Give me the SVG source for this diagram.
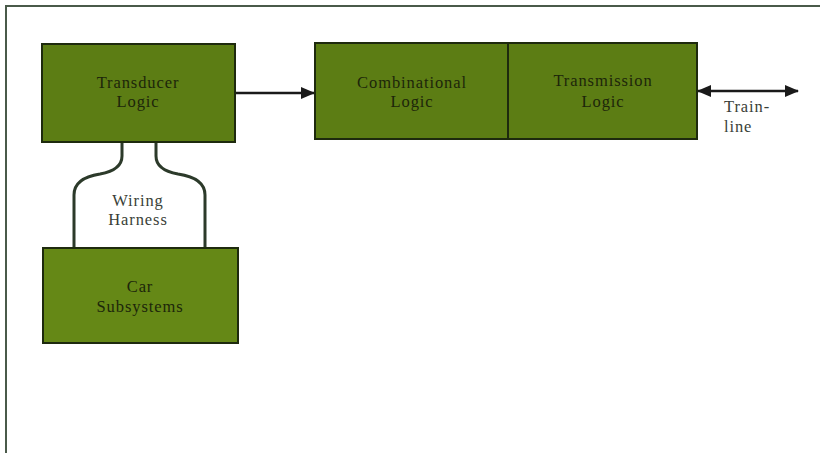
<svg xmlns="http://www.w3.org/2000/svg" width="820" height="453" viewBox="0 0 820 453">
  <defs>
    <style>
      .frame { stroke: #4a5a4a; stroke-width: 2; fill: none; }
      .box { fill: #5c7d14; stroke: #1e2a0e; stroke-width: 2; }
      .inlabel { font-family: "Liberation Serif", serif; font-size: 16.5px; letter-spacing: 0.9px; fill: #1c260a; text-anchor: middle; }
      .label { font-family: "Liberation Serif", serif; font-size: 16.5px; letter-spacing: 0.9px; fill: #3a3f38; }
      .wire { stroke: #2c3a2a; stroke-width: 3; fill: none; }
      .link { stroke: #1a1a1a; stroke-width: 2.5; fill: none; }
    </style>
    <marker id="arrow" viewBox="0 0 14 12" refX="13" refY="6" markerWidth="14" markerHeight="12" markerUnits="userSpaceOnUse" orient="auto-start-reverse">
      <path d="M0,0 L14,6 L0,12 z" fill="#1a1a1a"/>
    </marker>
  </defs>

  <rect width="820" height="453" fill="#ffffff"/>

  <!-- outer frame: top and left rules -->
  <path class="frame" d="M6,453 L6,6 L820,6"/>

  <!-- connectors -->
  <g id="connectors">
    <line class="link" x1="235" y1="93" x2="314" y2="93" marker-end="url(#arrow)"/>
    <line class="link" x1="698" y1="91" x2="798" y2="91" marker-start="url(#arrow)" marker-end="url(#arrow)"/>
    <!-- wiring harness -->
    <path class="wire" d="M122,142 L122,156 Q122,170 100,174 Q74,178 74,195 L74,248"/>
    <path class="wire" d="M156,142 L156,156 Q156,170 178,174 Q205,178 205,195 L205,248"/>
  </g>

  <g id="transducer-logic">
    <rect class="box" x="42" y="44" width="193" height="98"/>
    <text class="inlabel" x="138" y="88">Transducer</text>
    <text class="inlabel" x="138" y="107">Logic</text>
  </g>

  <g id="car-subsystems">
    <rect class="box" x="43" y="248" width="195" height="95" style="fill:#658816"/>
    <text class="inlabel" x="140" y="292">Car</text>
    <text class="inlabel" x="140" y="312">Subsystems</text>
  </g>

  <g id="combinational-logic">
    <rect class="box" x="315" y="43" width="193" height="96"/>
    <text class="inlabel" x="412" y="88">Combinational</text>
    <text class="inlabel" x="412" y="107">Logic</text>
  </g>

  <g id="transmission-logic">
    <rect class="box" x="508" y="43" width="189" height="96"/>
    <text class="inlabel" x="603" y="86">Transmission</text>
    <text class="inlabel" x="603" y="107">Logic</text>
  </g>

  <g id="wiring-harness-label">
    <text class="label" x="138" y="206" text-anchor="middle">Wiring</text>
    <text class="label" x="138" y="225" text-anchor="middle">Harness</text>
  </g>

  <g id="trainline-label">
    <text class="label" x="724" y="112">Train-</text>
    <text class="label" x="724" y="132">line</text>
  </g>
</svg>
